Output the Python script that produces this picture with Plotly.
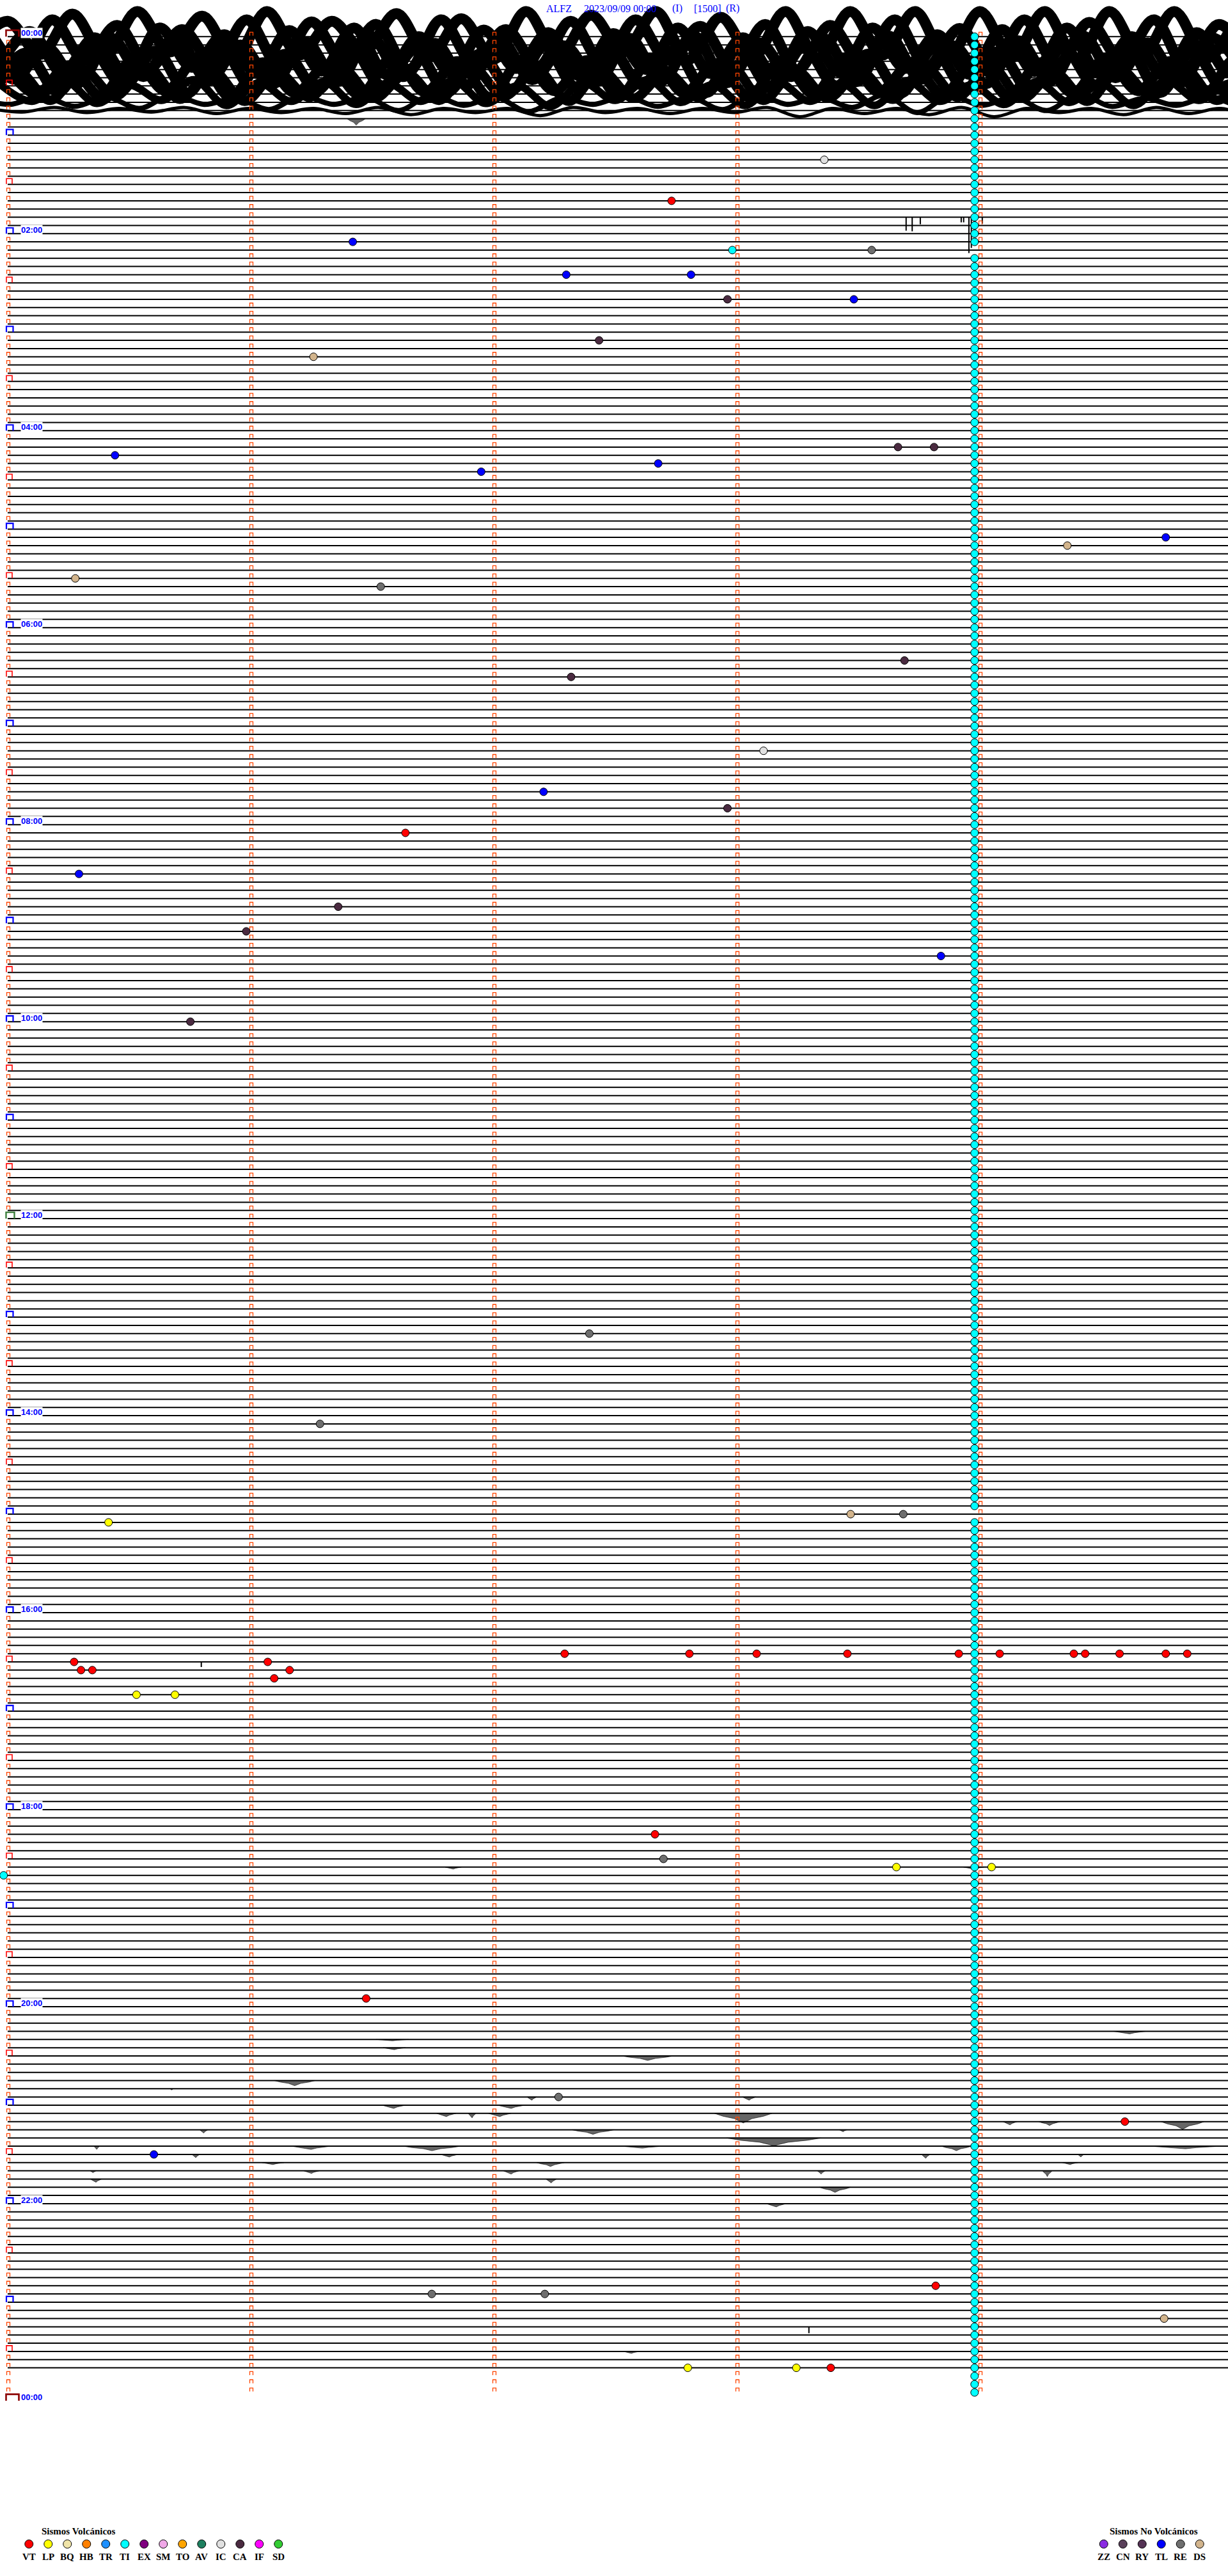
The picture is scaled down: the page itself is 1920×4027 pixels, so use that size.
import plotly.graph_objects as go

# ------------------------------------------------------------------ data
STATION = "ALFZ"
DATE_TEXT = "2023/09/09 00:00"
FLAG_TEXTS = ["(I)", "[1500]", "(R)"]

ROWS_PER_DAY = 288          # 5-minute rows
LAST_TRACE_ROW = 284        # last row with recorded signal
ROW_SECONDS = 300
MINUTE_MARKS = [0, 60, 120, 180, 240]
HOUR_LABELS = ["00:00", "02:00", "04:00", "06:00", "08:00", "10:00", "12:00",
               "14:00", "16:00", "18:00", "20:00", "22:00", "00:00"]
HOUR_LABEL_ROWS = [0, 24, 48, 72, 96, 120, 144, 168, 192, 216, 240, 264, 288]
NOON_ROW = 144

# continuous TI (tremor) picks, one per row at ~3:59 min
TI_TIME = 238.7
TI_MISSING_ROWS = [26, 180]

# other event picks: row (5-min line), seconds into the row, type
EVENT_ROW = [15, 20, 25, 26, 26, 29, 29, 32, 32, 37, 39, 51, 50, 50, 53, 52, 61, 62,
             66, 67, 78, 76, 87, 92, 94, 97, 102, 106, 109, 112, 120, 158, 169, 180,
             180, 181,
             197, 197, 197, 197, 197, 197, 197, 197, 197, 197, 197,
             198, 199, 199, 198, 199, 200, 202, 202,
             219, 222, 223, 223, 224, 239, 251, 254, 258, 274, 275, 275, 278,
             284, 284, 284]
EVENT_TIME = [201.6, 163.9, 85.2, 178.9, 213.3, 137.9, 168.7, 177.7, 208.9, 146.0,
              75.5, 26.5, 219.8, 228.7, 116.9, 160.6, 285.9, 261.6, 16.7, 92.1,
              139.1, 221.4, 186.6, 132.3, 177.7, 98.2, 17.6, 81.6, 58.9, 230.4,
              45.1, 143.6, 77.1, 208.1, 221.1, 24.9,
              137.5, 168.3, 184.9, 207.3, 234.8, 244.9, 263.2, 266.0, 274.5, 285.9, 291.2,
              16.4, 18.1, 20.9, 64.2, 69.6, 65.8, 31.8, 41.3,
              159.8, 161.9, 219.4, 242.9, -1.0, 88.5, 136.0, 275.8, 36.1, 229.1,
              104.7, 132.6, 285.5,
              167.9, 194.7, 203.2]
EVENT_TYPE = ["IC", "VT", "TL", "TI", "RE", "TL", "TL", "CA", "TL", "CA",
              "DS", "TL", "CA", "CA", "TL", "TL", "TL", "DS", "DS", "RE",
              "CA", "CA", "IC", "TL", "CA", "VT", "TL", "CA", "CA", "TL",
              "CA", "RE", "RE", "DS", "RE", "LP",
              "VT", "VT", "VT", "VT", "VT", "VT", "VT", "VT", "VT", "VT", "VT",
              "VT", "VT", "VT", "VT", "VT", "VT", "LP", "LP",
              "VT", "RE", "LP", "LP", "TI", "VT", "RE", "VT", "TL", "VT",
              "RE", "RE", "DS",
              "LP", "LP", "VT"]

VOLCANIC_TYPES = ["VT", "LP", "BQ", "HB", "TR", "TI", "EX", "SM", "TO", "AV", "IC", "CA", "IF", "SD"]
NON_VOLCANIC_TYPES = ["ZZ", "CN", "RY", "TL", "RE", "DS"]
TYPE_COLORS = {"VT": "#FF0000", "LP": "#FFFF00", "BQ": "#F0E4A8", "HB": "#FF8000",
               "TR": "#1E90FF", "TI": "#00FFFF", "EX": "#800080", "SM": "#F0A8E8",
               "TO": "#FFA500", "AV": "#1E8060", "IC": "#E0E0E0", "CA": "#4A2A40",
               "IF": "#FF00FF", "SD": "#33CC33", "ZZ": "#8A2BE2", "CN": "#5A405A",
               "RY": "#553355", "TL": "#0000FF", "RE": "#6E6E6E", "DS": "#D2B48C"}

# strong microseism during the first hour: readings every WAVE_STEP s (counts, + = up)
WAVE_ROWS = [0, 1, 2, 3, 4, 5, 6, 7, 8, 9]
WAVE_T0 = [0.0, 3.0, 5.5, 1.5, 4.5, 7.0, 2.5, 6.0, 0.5, 3.5]
WAVE_STEP = 8
WAVE_VALUES = [
    [-20, 30, -35, 44, -38, 49, -30, 40, -42, 49, -36, 30, -28, 45, -40, 35, -44, 49, -38, 42,
     -30, 49, -45, 38, -40, 49, -42, 49, -36, 49, -45, 49, -40, 49, -44, 49, -38, 49, -42, 49],
    [35, -40, 49, -30, 38, -45, 30, -38, 49, -40, 45, -32, 40, -48, 49, -35, 30, -42, 46, -38,
     49, -30, 36, -44, 40, -49, 38, -36, 49, -42, 32, -40, 49, -38, 44, -30, 49, -45, 40, -36],
    [-30, 42, -38, 30, -45, 49, -28, 36, -40, 44, -35, 49, -42, 32, -38, 45, -30, 40, -46, 38,
     -32, 49, -40, 30, -44, 42, -38, 49, -30, 36, -42, 46, -36, 49, -40, 32, -45, 40, -38, 44],
    [40, -35, 28, -42, 45, -30, 49, -38, 32, -44, 38, -40, 49, -30, 35, -46, 42, -36, 30, -40,
     45, -38, 49, -42, 36, -30, 44, -40, 49, -35, 30, -44, 40, -38, 49, -32, 36, -42, 45, -30],
    [-38, 32, -44, 40, -30, 36, -46, 44, -35, 30, -40, 46, -32, 38, -44, 30, -40, 45, -36, 42,
     -30, 38, -45, 40, -36, 44, -32, 30, -46, 40, -38, 35, -42, 44, -30, 40, -45, 36, -40, 32],
    [30, -32, 24, -36, 35, -26, 38, -38, 30, -30, 26, -34, 40, -28, 32, -38, 36, -26, 34, -36,
     38, -30, 28, -38, 34, -32, 40, -28, 26, -34, 36, -36, 30, -30, 38, -26, 32, -38, 36, -28],
    [-24, 28, -28, 32, -20, 36, -26, 30, -30, 26, -22, 34, -24, 24, -28, 38, -20, 32, -30, 30,
     -24, 26, -22, 38, -28, 30, -24, 28, -26, 36, -22, 40, -24, 26, -30, 32, -20, 34, -28, 30],
    [20, -14, 26, -18, 18, -12, 28, -22, 22, -14, 24, -20, 20, -14, 26, -18, 16, -24, 22, -12,
     28, -16, 18, -22, 24, -14, 20, -22, 26, -14, 18, -20, 24, -16, 20, -22, 26, -12, 22, -14],
    [8, -4, 12, -8, 10, -12, 14, -4, 8, -14, 12, -4, 10, -16, 14, -6, 10, -18, 8, -4,
     12, -8, 10, -14, 16, -4, 10, -10, 14, -20, 12, -6, 10, -16, 16, -8, 8, -6, 10, -12],
    [4, -3, 6, -4, 4, -3, 6, -6, 4, -4, 4, -6, 6, -8, 4, -4, 4, -10, 6, -4,
     4, -6, 4, -4, 6, -12, 4, -6, 4, -8, 6, -12, 4, -4, 4, -8, 6, -6, 4, -14],
]

# short noise bursts: row, start s, end s, peak downward deflection (counts)
BURST_ROW = [10, 223, 223, 243, 244, 245, 246, 249, 250, 251, 251, 252, 252, 253, 253, 253, 253,
             254, 254, 254, 255, 255, 255, 256, 257, 257, 257, 257, 257, 257,
             258, 258, 258, 258, 259, 259, 259, 260, 260, 260, 260, 260, 261, 261, 262, 264, 282]
BURST_T0 = [83.8, 108.0, 236.0, 273.0, 91.0, 92.7, 151.6, 65.8, 40.1, 128.2, 181.4, 92.4, 120.9,
            105.9, 113.7, 118.7, 174.5, 245.7, 254.5, 284.7, 47.4, 139.3, 205.3, 177.5,
            21.3, 70.1, 97.7, 151.6, 230.5, 282.2, 45.5, 106.9, 225.6, 264.2, 62.8, 130.6, 260.4,
            20.4, 73.1, 122.4, 199.9, 255.5, 20.4, 132.9, 200.4, 187.3, 152.0]
BURST_T1 = [88.3, 112.0, 241.0, 281.0, 99.0, 98.2, 164.4, 75.9, 40.9, 130.6, 184.7, 98.2, 127.7,
            110.7, 115.6, 124.3, 188.7, 249.2, 259.9, 295.4, 49.4, 149.7, 207.2, 200.8,
            22.7, 79.7, 111.8, 161.8, 237.9, 299.4, 47.4, 111.2, 227.7, 265.7, 68.2, 137.4, 264.2,
            21.8, 76.9, 126.2, 201.8, 257.8, 23.2, 135.5, 208.1, 192.2, 156.0]
BURST_DEPTH = [10, 3, 3, 4, 2, 3, 7, 8, 2, 5, 5, 5, 5, 5, 7, 5, 15, 5, 6, 12, 5, 7, 3, 12,
               5, 5, 7, 3, 7, 4, 5, 4, 6, 4, 3, 6, 3, 3, 4, 5, 5, 9, 5, 6, 8, 5, 3]

# isolated spikes: row, seconds, downward length (counts)
SPIKE_ROW = [22, 22, 22, 22, 22, 22, 22, 22, 198, 279]
SPIKE_T = [221.8, 223.3, 225.3, 235.4, 236.0, 237.3, 237.9, 240.6, 47.8, 197.8]
SPIKE_LEN = [21, 22, 11, 8, 8, 56, 48, 10, 8, 10]

# ------------------------------------------------------------------ layout helpers
W, H = 1920, 4027
X0_PX, X1_PX = 12.0, 1912.0
Y0_PX, ROW_PX = 57.3, 12.832
SEC_PER_PX = ROW_SECONDS / (X1_PX - X0_PX)
XR = [(0 - X0_PX) * SEC_PER_PX, (W - X0_PX) * SEC_PER_PX]
YR = [(H - Y0_PX) / ROW_PX, (0 - Y0_PX) / ROW_PX]
WAVE_GAIN = 0.8                                   # px per count (centre line)
WAVE_WIDTHS = [17, 17, 17, 17, 17, 16, 15, 12, 8, 5]   # px, noise band thickness per row


def dx(px):
    return px * SEC_PER_PX


def dy(px):
    return px / ROW_PX


def xat(px):
    return (px - X0_PX) * SEC_PER_PX


def yat(px):
    return (px - Y0_PX) / ROW_PX


fig = go.Figure()

# baselines
bx, by = [], []
for r in range(LAST_TRACE_ROW + 1):
    bx += [0, XR[1], None]
    by += [r, r, None]
fig.add_trace(go.Scatter(x=bx, y=by, mode="lines", line=dict(color="black", width=2),
                         hoverinfo="skip"))

# heavy microseism traces
for row, t0, vals, lw in zip(WAVE_ROWS, WAVE_T0, WAVE_VALUES, WAVE_WIDTHS):
    ts = [t0 - WAVE_STEP + WAVE_STEP * k for k in range(len(vals))]
    ys = [row - dy(v * WAVE_GAIN) for v in vals]
    fig.add_trace(go.Scatter(x=ts, y=ys, mode="lines",
                             line=dict(color="black", width=lw, shape="spline", smoothing=1.0),
                             hoverinfo="skip"))

# noise bursts
px_, py_ = [], []
for r, a, b, d in zip(BURST_ROW, BURST_T0, BURST_T1, BURST_DEPTH):
    w = b - a
    px_ += [a, a + 0.15 * w, a + 0.35 * w, a + 0.5 * w, a + 0.65 * w, a + 0.85 * w, b, a, None]
    py_ += [r, r + dy(0.3 * d), r + dy(0.55 * d), r + dy(d), r + dy(0.55 * d),
            r + dy(0.3 * d), r, r, None]
fig.add_trace(go.Scatter(x=px_, y=py_, mode="lines", fill="toself",
                         fillcolor="rgba(0,0,0,0.6)",
                         line=dict(color="rgba(0,0,0,0.8)", width=0.8), hoverinfo="skip"))

# spikes
sx, sy = [], []
for r, t, L in zip(SPIKE_ROW, SPIKE_T, SPIKE_LEN):
    sx += [t, t, None]
    sy += [r, r + dy(L), None]
fig.add_trace(go.Scatter(x=sx, y=sy, mode="lines", line=dict(color="black", width=2),
                         hoverinfo="skip"))


# minute marks and hour brackets
def bracket(xs, ys, t_left_px, t_right_px, r, top_px, bot_px, col_t):
    xl = col_t + dx(t_left_px)
    xr = col_t + dx(t_right_px)
    xs += [xl, xl, xr, xr, None]
    ys += [r - dy(bot_px), r - dy(top_px), r - dy(top_px), r - dy(bot_px), None]


mx, my = [], []
hx, hy = [], []
hhx, hhy = [], []
dxs, dys = [], []
nx, ny = [], []
for r in range(ROWS_PER_DAY):
    for m in MINUTE_MARKS:
        if m == 0 and r % 12 == 0:
            if r == 0:
                bracket(dxs, dys, -2.5, 17.5, r, 10, 0, m)
            elif r == NOON_ROW:
                bracket(nx, ny, -2.5, 10.5, r, 10, 0, m)
            else:
                bracket(hx, hy, -2, 8.5, r, 9, 0, m)
        elif m == 0 and r % 6 == 0:
            bracket(hhx, hhy, -2, 7, r, 9, 0.5, m)
        else:
            bracket(mx, my, -1.5, 3.5, r, 7, 1.5, m)
bracket(dxs, dys, -2.5, 17.5, ROWS_PER_DAY, 10, 0, 0)

fig.add_trace(go.Scatter(x=mx, y=my, mode="lines", line=dict(color="#FF4500", width=1.3),
                         hoverinfo="skip"))
fig.add_trace(go.Scatter(x=hhx, y=hhy, mode="lines", line=dict(color="#FF0000", width=1.6),
                         hoverinfo="skip"))
fig.add_trace(go.Scatter(x=hx, y=hy, mode="lines", line=dict(color="#0000FF", width=2.2),
                         hoverinfo="skip"))
fig.add_trace(go.Scatter(x=nx, y=ny, mode="lines", line=dict(color="#3C7F3C", width=2.4),
                         hoverinfo="skip"))
fig.add_trace(go.Scatter(x=dxs, y=dys, mode="lines", line=dict(color="#8B0000", width=2.6),
                         hoverinfo="skip"))

# TI column
ti_rows = [r for r in range(ROWS_PER_DAY) if r not in TI_MISSING_ROWS]
fig.add_trace(go.Scatter(x=[TI_TIME] * len(ti_rows), y=ti_rows, mode="markers",
                         marker=dict(size=12, color=TYPE_COLORS["TI"],
                                     line=dict(color="black", width=1)),
                         hoverinfo="skip"))

# other events
fig.add_trace(go.Scatter(x=EVENT_TIME, y=EVENT_ROW, mode="markers",
                         marker=dict(size=12, color=[TYPE_COLORS[t] for t in EVENT_TYPE],
                                     line=dict(color="black", width=1)),
                         hoverinfo="skip"))

annotations = []
# title
title_parts = [(STATION, 852), (DATE_TEXT, 911), (FLAG_TEXTS[0], 1049),
               (FLAG_TEXTS[1], 1083), (FLAG_TEXTS[2], 1133)]
for txt, xp in title_parts:
    annotations.append(dict(x=xat(xp), y=yat(13), text=txt, showarrow=False,
                            xanchor="left", yanchor="middle",
                            font=dict(family="Liberation Serif", size=16, color="#0000FF")))
# hour labels
for lab, r in zip(HOUR_LABELS, HOUR_LABEL_ROWS):
    annotations.append(dict(x=xat(32), y=r - dy(5.5), text="<b>%s</b>" % lab, showarrow=False,
                            xanchor="left", yanchor="middle", bgcolor="white", borderpad=0,
                            font=dict(family="Liberation Sans", size=13, color="#0000FF")))

# legends
lx, ly, lc = [], [], []
for i, t in enumerate(VOLCANIC_TYPES):
    xp = 45.3 + 30 * i
    lx.append(xat(xp)); ly.append(yat(3977)); lc.append(TYPE_COLORS[t])
    annotations.append(dict(x=xat(xp), y=yat(3997), text="<b>%s</b>" % t, showarrow=False,
                            xanchor="center", yanchor="middle",
                            font=dict(family="Liberation Serif", size=15, color="black")))
for i, t in enumerate(NON_VOLCANIC_TYPES):
    xp = 1725.7 + 30 * i
    lx.append(xat(xp)); ly.append(yat(3977)); lc.append(TYPE_COLORS[t])
    annotations.append(dict(x=xat(xp), y=yat(3997), text="<b>%s</b>" % t, showarrow=False,
                            xanchor="center", yanchor="middle",
                            font=dict(family="Liberation Serif", size=15, color="black")))
annotations.append(dict(x=xat(63), y=yat(3957), text="<b>Sismos Volcánicos</b>", showarrow=False,
                        xanchor="left", yanchor="middle",
                        font=dict(family="Liberation Serif", size=15, color="black")))
annotations.append(dict(x=xat(1733), y=yat(3957), text="<b>Sismos No Volcánicos</b>",
                        showarrow=False, xanchor="left", yanchor="middle",
                        font=dict(family="Liberation Serif", size=15, color="black")))
fig.add_trace(go.Scatter(x=lx, y=ly, mode="markers",
                         marker=dict(size=13, color=lc, line=dict(color="black", width=1)),
                         hoverinfo="skip"))

fig.update_layout(width=W, height=H, margin=dict(l=0, r=0, t=0, b=0),
                  paper_bgcolor="white", plot_bgcolor="white", showlegend=False,
                  xaxis=dict(visible=False, range=XR, fixedrange=True),
                  yaxis=dict(visible=False, range=YR, fixedrange=True),
                  annotations=annotations)

fig.write_html("out.html", config={"displayModeBar": False},
               post_script="document.body.style.margin='0';document.body.style.overflow='hidden';")
